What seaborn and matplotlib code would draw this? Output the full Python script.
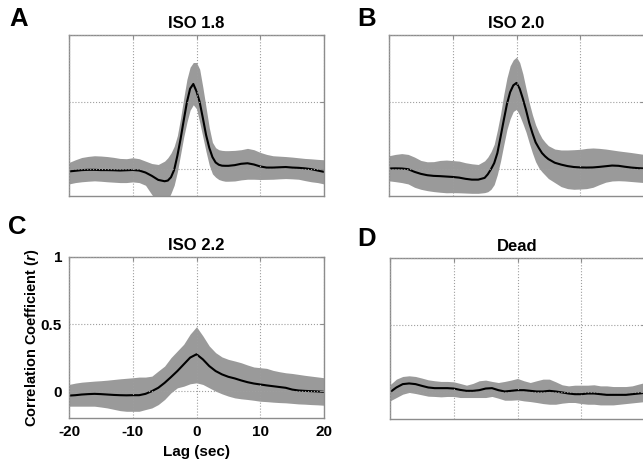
import matplotlib
matplotlib.use("Agg")
import matplotlib.pyplot as plt
import numpy as np
import seaborn as sns

# ── Data ─────────────────────────────────────────────────────────────────────
# Fine lag grid for the sharp peaks (A, B), 1-sec grid for C and D
LAG_FINE = [-20, -19, -18, -17, -16, -15, -14, -13, -12, -11, -10, -9, -8, -7, -6, -5,
            -4.5, -4, -3.5, -3, -2.5, -2, -1.5, -1, -0.5, 0, 0.5, 1, 1.5, 2, 2.5, 3, 3.5, 4, 4.5,
            5, 6, 7, 8, 9, 10, 11, 12, 13, 14, 15, 16, 17, 18, 19, 20]
LAG = list(range(-20, 21))

ISO18_MEAN = [-0.017, -0.012, -0.007, -0.005, -0.005, -0.007, -0.007, -0.008, -0.010, -0.008,
              -0.006, -0.010, -0.025, -0.050, -0.080, -0.090,
              -0.085, -0.060, -0.005, 0.100, 0.225, 0.365, 0.500, 0.600, 0.635, 0.580,
              0.500, 0.380, 0.255, 0.160, 0.090, 0.050, 0.033, 0.026, 0.025,
              0.025, 0.030, 0.040, 0.044, 0.035, 0.020, 0.012, 0.012, 0.014, 0.016,
              0.012, 0.010, 0.006, 0.000, -0.010, -0.020]
ISO18_UPPER = [0.050, 0.070, 0.087, 0.095, 0.100, 0.098, 0.094, 0.088, 0.080, 0.078,
               0.085, 0.078, 0.060, 0.042, 0.035, 0.060,
               0.085, 0.120, 0.170, 0.250, 0.380, 0.530, 0.670, 0.760, 0.795, 0.795,
               0.745, 0.610, 0.460, 0.310, 0.200, 0.160, 0.145, 0.140, 0.138,
               0.138, 0.140, 0.145, 0.155, 0.145, 0.125, 0.110, 0.100, 0.097, 0.094,
               0.090, 0.085, 0.080, 0.077, 0.073, 0.070]
ISO18_LOWER = [-0.110, -0.100, -0.094, -0.090, -0.087, -0.090, -0.094, -0.097, -0.100, -0.100,
               -0.095, -0.100, -0.120, -0.190, -0.250, -0.260,
               -0.230, -0.180, -0.120, -0.020, 0.110, 0.240, 0.350, 0.440, 0.480, 0.450,
               0.350, 0.240, 0.130, 0.030, -0.035, -0.060, -0.077, -0.085, -0.090,
               -0.090, -0.088, -0.080, -0.075, -0.075, -0.077, -0.076, -0.075, -0.072, -0.070,
               -0.072, -0.075, -0.085, -0.094, -0.100, -0.110]

ISO20_MEAN = [0.005, 0.006, 0.005, 0.000, -0.020, -0.035, -0.045, -0.050, -0.052, -0.055,
              -0.058, -0.063, -0.072, -0.078, -0.078, -0.065,
              -0.038, 0.000, 0.045, 0.120, 0.240, 0.365, 0.485, 0.574, 0.625, 0.643,
              0.600, 0.525, 0.440, 0.345, 0.268, 0.200, 0.158, 0.120, 0.095,
              0.075, 0.048, 0.034, 0.023, 0.016, 0.013, 0.012, 0.013, 0.017, 0.022,
              0.027, 0.025, 0.018, 0.012, 0.008, 0.005]
ISO20_UPPER = [0.100, 0.110, 0.116, 0.110, 0.090, 0.065, 0.055, 0.056, 0.065, 0.068,
               0.064, 0.060, 0.048, 0.040, 0.035, 0.062,
               0.090, 0.130, 0.185, 0.290, 0.410, 0.555, 0.680, 0.770, 0.815, 0.835,
               0.795, 0.710, 0.600, 0.495, 0.405, 0.330, 0.275, 0.230, 0.200,
               0.175, 0.150, 0.143, 0.143, 0.145, 0.148, 0.155, 0.158, 0.155, 0.150,
               0.143, 0.136, 0.130, 0.124, 0.117, 0.110]
ISO20_LOWER = [-0.087, -0.093, -0.100, -0.110, -0.135, -0.150, -0.160, -0.167, -0.172, -0.176,
               -0.175, -0.176, -0.178, -0.180, -0.180, -0.175,
               -0.168, -0.150, -0.115, -0.040, 0.060, 0.180, 0.295, 0.375, 0.430, 0.446,
               0.400, 0.340, 0.275, 0.195, 0.120, 0.055, 0.010, -0.020, -0.045,
               -0.070, -0.100, -0.130, -0.145, -0.150, -0.148, -0.145, -0.135, -0.115, -0.097,
               -0.088, -0.086, -0.088, -0.092, -0.096, -0.100]

ISO22_MEAN = [-0.033, -0.030, -0.025, -0.022, -0.020, -0.022, -0.025, -0.028, -0.030, -0.031,
              -0.030, -0.030, -0.020, 0.000, 0.025, 0.062, 0.105, 0.150, 0.200, 0.250,
              0.275, 0.237, 0.187, 0.150, 0.125, 0.107, 0.095, 0.080, 0.067, 0.057,
              0.050, 0.043, 0.037, 0.031, 0.025, 0.012, 0.005, 0.002, 0.000, -0.002, -0.005]
ISO22_UPPER = [0.050, 0.060, 0.067, 0.071, 0.075, 0.078, 0.082, 0.087, 0.092, 0.096,
               0.100, 0.105, 0.105, 0.112, 0.150, 0.187, 0.250, 0.300, 0.350, 0.425,
               0.480, 0.412, 0.337, 0.287, 0.255, 0.237, 0.225, 0.212, 0.195, 0.180,
               0.175, 0.170, 0.155, 0.145, 0.137, 0.132, 0.125, 0.118, 0.112, 0.106, 0.100]
ISO22_LOWER = [-0.112, -0.112, -0.112, -0.112, -0.112, -0.118, -0.125, -0.135, -0.145, -0.150,
               -0.150, -0.150, -0.137, -0.125, -0.100, -0.062, -0.012, 0.025, 0.037, 0.055,
               0.062, 0.050, 0.025, 0.000, -0.020, -0.037, -0.050, -0.057, -0.062, -0.068,
               -0.075, -0.078, -0.082, -0.085, -0.087, -0.091, -0.095, -0.097, -0.100, -0.102, -0.105]

DEAD_MEAN = [0.000, 0.035, 0.060, 0.065, 0.060, 0.047, 0.035, 0.030, 0.030, 0.030,
             0.027, 0.017, 0.010, 0.010, 0.015, 0.027, 0.030, 0.015, 0.005, 0.010,
             0.015, 0.015, 0.010, 0.005, 0.005, 0.010, 0.005, -0.002, -0.010, -0.015,
             -0.015, -0.010, -0.010, -0.015, -0.020, -0.020, -0.020, -0.020, -0.015, -0.010, -0.005]
DEAD_UPPER = [0.055, 0.097, 0.117, 0.122, 0.117, 0.105, 0.092, 0.085, 0.080, 0.080,
              0.077, 0.065, 0.052, 0.065, 0.085, 0.090, 0.080, 0.072, 0.080, 0.090,
              0.102, 0.085, 0.072, 0.085, 0.097, 0.097, 0.077, 0.055, 0.047, 0.052,
              0.052, 0.052, 0.055, 0.047, 0.047, 0.042, 0.042, 0.042, 0.047, 0.060, 0.072]
DEAD_LOWER = [-0.065, -0.040, -0.015, -0.002, -0.010, -0.020, -0.030, -0.032, -0.035, -0.032,
              -0.032, -0.040, -0.040, -0.040, -0.040, -0.040, -0.032, -0.045, -0.060, -0.060,
              -0.057, -0.065, -0.070, -0.077, -0.085, -0.090, -0.090, -0.082, -0.077, -0.077,
              -0.085, -0.090, -0.090, -0.095, -0.095, -0.095, -0.090, -0.085, -0.080, -0.075, -0.070]

PANELS = ["A", "B", "C", "D"]
TITLES = ["ISO 1.8", "ISO 2.0", "ISO 2.2", "Dead"]

X_TICKS = [-20, -10, 0, 10, 20]
X_TICK_LABELS = ["-20", "-10", "0", "10", "20"]
Y_TICKS = [0, 0.5, 1]
Y_TICK_LABELS = ["0", "0.5", "1"]

# ── Style ────────────────────────────────────────────────────────────────────
sns.set_theme(style="white", rc={
    "text.color": "black",
    "axes.labelcolor": "black",
    "xtick.color": "black",
    "ytick.color": "black",
})
plt.rcParams["font.family"] = ["Liberation Sans", "DejaVu Sans"]
plt.rcParams["font.weight"] = "bold"
plt.rcParams["mathtext.fontset"] = "custom"
plt.rcParams["mathtext.it"] = "Liberation Sans:italic:bold"
plt.rcParams["mathtext.rm"] = "Liberation Sans:bold"

BAND = "#9a9a9a"
FRAME = "#8c8c8c"

W, H = 643, 466
fig = plt.figure(figsize=(W / 100, H / 100), dpi=100)

# axes boxes in pixels: left, top, right, bottom
boxes = [(69, 35, 324, 196), (389, 35, 644, 196),
         (69, 257, 324, 418), (390, 258, 645, 419)]
letter_pos = [(9, 19), (357, 19), (8, 227), (357, 239)]

series = [
    (LAG_FINE, ISO18_MEAN, ISO18_LOWER, ISO18_UPPER),
    (LAG_FINE, ISO20_MEAN, ISO20_LOWER, ISO20_UPPER),
    (LAG, ISO22_MEAN, ISO22_LOWER, ISO22_UPPER),
    (LAG, DEAD_MEAN, DEAD_LOWER, DEAD_UPPER),
]

for i, (box, (lag, mean, lo, hi)) in enumerate(zip(boxes, series)):
    l, t, r, b = box
    ax = fig.add_axes([l / W, 1 - b / H, (r - l) / W, (b - t) / H])

    ax.fill_between(lag, lo, hi, color=BAND, linewidth=0, zorder=1)
    sns.lineplot(x=lag, y=mean, ax=ax, color="black", linewidth=1.5, zorder=2)

    ax.set_xlim(-20, 20)
    ax.set_ylim(-0.2, 1)
    ax.set_xticks(X_TICKS)
    ax.set_yticks(Y_TICKS)
    ax.grid(True, linestyle=":", color="#9e9e9e", linewidth=0.8)
    ax.set_axisbelow(False)
    for s in ax.spines.values():
        s.set_color(FRAME)
        s.set_linewidth(1.0)
    ax.tick_params(direction="in", length=3, width=0.8, color=FRAME,
                   labelcolor="black", top=True, right=True, labelsize=11, pad=5)

    if PANELS[i] == "C":
        ax.set_xticklabels(X_TICK_LABELS, fontweight="bold")
        ax.set_yticklabels(Y_TICK_LABELS, fontweight="bold")
        ax.set_xlabel("Lag (sec)", fontsize=11, fontweight="bold")
        ax.set_ylabel("Correlation Coefficient ($r$)", fontsize=10.5, fontweight="bold")
        ax.xaxis.set_label_coords(0.5, -0.17)
        ax.yaxis.set_label_coords(-0.11, 0.5)
    else:
        ax.set_xticklabels([])
        ax.set_yticklabels([])
        ax.set_xlabel("")
        ax.set_ylabel("")

    ax.set_title(TITLES[i], fontsize=12, fontweight="bold", pad=5)
    lx, ly = letter_pos[i]
    fig.text(lx / W, 1 - ly / H, PANELS[i], fontsize=18.5, fontweight="bold",
             ha="left", va="center")

fig.savefig("out.png", dpi=100)
plt.close(fig)
